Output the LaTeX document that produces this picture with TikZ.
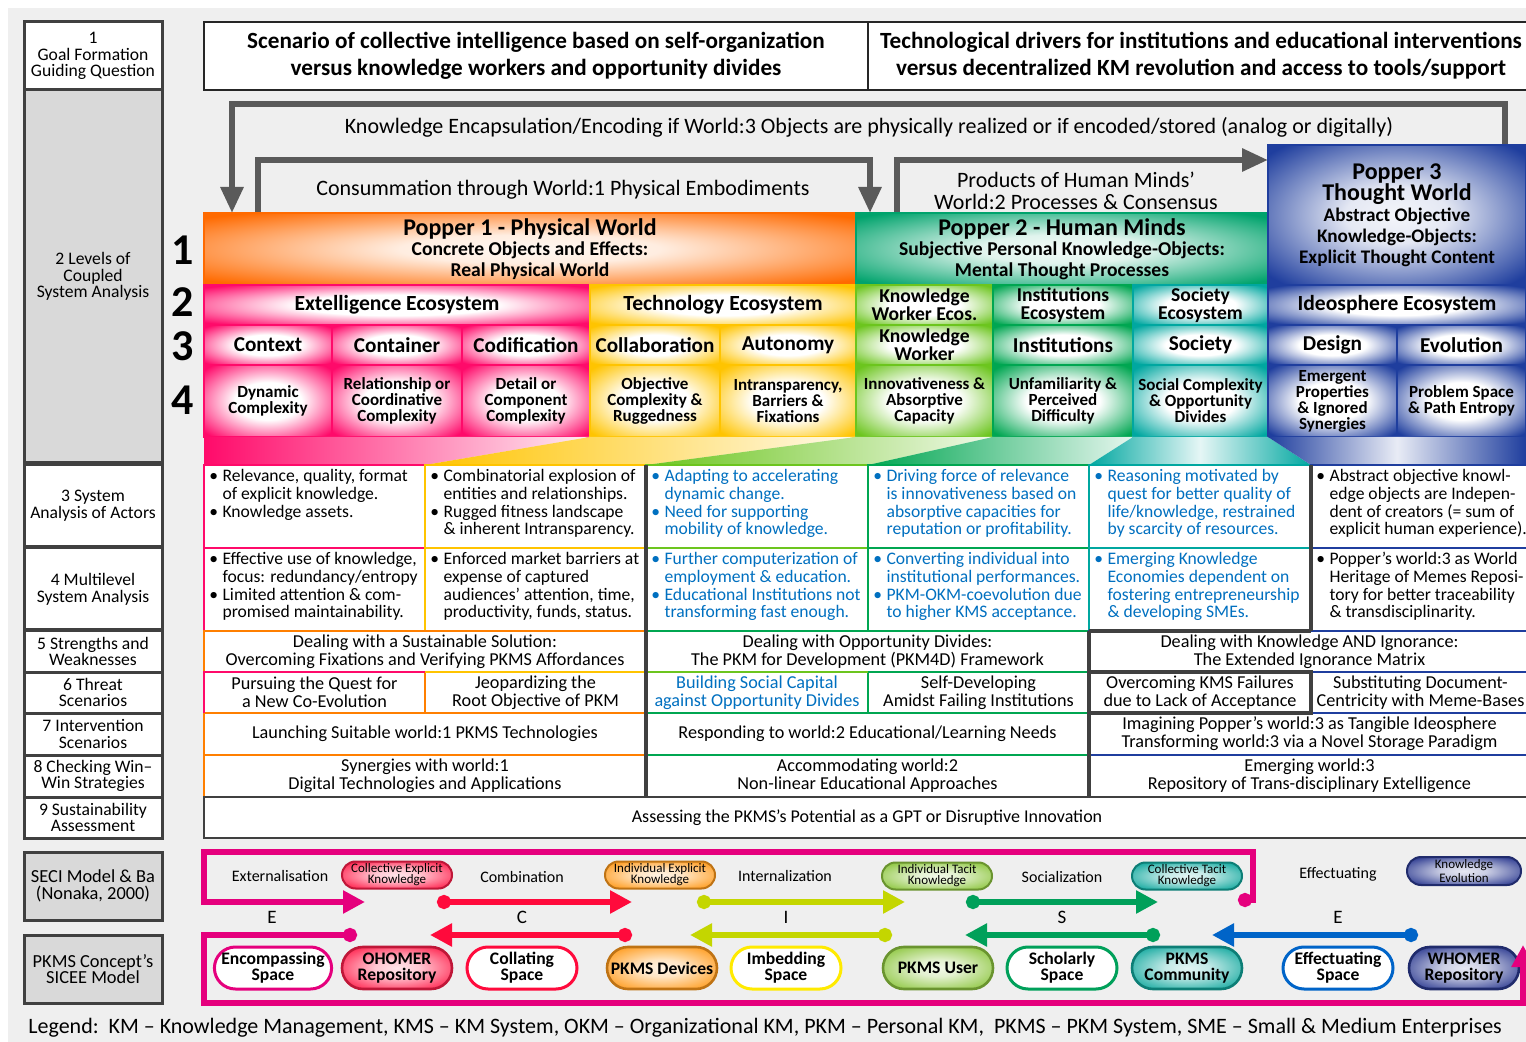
\documentclass[tikz,border=0pt]{standalone}
\usepackage{fontspec}
\setmainfont{Carlito}
\usetikzlibrary{arrows.meta,shapes.misc}
\definecolor{bgg}{HTML}{EFEFEF}
\definecolor{boxg}{HTML}{D9D9D9}
\definecolor{dkg}{HTML}{404040}
\definecolor{arg}{HTML}{5A5A5A}
\definecolor{orc}{HTML}{FF6A00}
\definecolor{pkc}{HTML}{FF0A6A}
\definecolor{ylc}{HTML}{FFC400}
\definecolor{ygc}{HTML}{6CC51E}
\definecolor{grc}{HTML}{00A651}
\definecolor{p2c}{HTML}{00A36C}
\definecolor{tlc}{HTML}{00A7A0}
\definecolor{blc}{HTML}{1F3E9E}
\definecolor{or2}{HTML}{FF7F00}
\definecolor{txb}{HTML}{0070C0}
\definecolor{mgc}{HTML}{E5007D}
\definecolor{rdc}{HTML}{FF0A3C}
\definecolor{lmc}{HTML}{C4D600}
\definecolor{sgc}{HTML}{00A05A}
\definecolor{ebc}{HTML}{0064C8}
\definecolor{ysc}{HTML}{FFEA00}
\definecolor{cekc}{HTML}{FF1F4B}
\definecolor{iekc}{HTML}{FF9A1A}
\definecolor{itkc}{HTML}{8DC63F}
\definecolor{ctkc}{HTML}{11A89E}
\definecolor{kec}{HTML}{2B3990}
\colorlet{glowc}{white}
\pgfdeclareradialshading[glowc]{glow}{\pgfpoint{0bp}{0bp}}{color(0bp)=(white); color(13bp)=(white); color(33bp)=(glowc); color(100bp)=(glowc)}
\pgfdeclareradialshading[glowc]{pglow}{\pgfpoint{0bp}{0bp}}{color(0bp)=(glowc!5); color(10bp)=(glowc!12); color(33bp)=(glowc); color(100bp)=(glowc)}
\pgfdeclareradialshading[glowc]{pillglow}{\pgfpoint{0bp}{0bp}}{color(0bp)=(glowc!12); color(10bp)=(glowc!25); color(32bp)=(glowc); color(100bp)=(glowc)}
\newcommand\fs[2]{\fontsize{#1}{#2}\selectfont}
\newcommand\bl{\makebox[0.75em][l]{•}}
\newcommand\ind{\hspace*{0.75em}}
\newcommand\cellbox[7]{%
  \pgfmathsetmacro\cbw{(#4-#2)*0.5}%
  \pgfmathsetmacro\cbh{(#5-#3)*0.5}%
  \pgfmathsetmacro\cbx{(#2+#4)/2}%
  \pgfmathsetmacro\cby{(#3+#5)/2}%
  \node[minimum width=\cbw pt, minimum height=\cbh pt, inner sep=0pt, align=center, #6] (#1) at (\cbx,\cby) {#7};%
}
\tikzset{
 lbox/.style={draw=dkg, line width=1.5pt, fill=white, font=\fs{8.8}{8.4}},
 lboxg/.style={lbox, fill=boxg},
 hbox/.style={draw=black!85, line width=0.8pt, fill=white, font=\bfseries\fs{11.6}{13.5}},
 sc/.style={draw=#1, line width=1pt, /utils/exec={\colorlet{glowc}{#1}}, shading=glow},
 pop/.style={draw=#1, line width=1pt, /utils/exec={\colorlet{glowc}{#1}}, shading=pglow, font=\bfseries\fs{9.8}{10.3}},
 r2/.style={font=\bfseries\fs{10.8}{8.7}},
 r2b/.style={font=\bfseries\fs{9.8}{8.9}},
 r3/.style={font=\bfseries\fs{10.6}{8.9}},
 r4/.style={font=\bfseries\fs{8.5}{8}},
 tcell/.style={draw=#1, line width=1.3pt, fill=white},
 ttext/.style={anchor=north west, align=left, inner sep=0pt, font=\fs{8.8}{8.85}},
 scell/.style={draw=#1, line width=1.3pt, fill=white, font=\fs{9.1}{9}},
 dkl/.style={draw=dkg, line width=2.2pt},
 garrow/.style={draw=arg, line width=3pt, arrows={-Triangle[length=13pt,width=11pt]}},
 alab/.style={font=\fs{11}{11}},
 sarr/.style={draw=#1, line width=3pt, arrows={Circle[length=7pt]-Triangle[length=11pt,width=11pt]}},
 slab/.style={font=\fs{8}{8}},
 sletter/.style={font=\fs{9.5}{9}},
 upill/.style={rounded rectangle, draw=#1!75!black, line width=1pt, /utils/exec={\colorlet{glowc}{#1}}, shading=pillglow, minimum width=55pt, minimum height=13.5pt, inner sep=0pt, align=center, font=\fs{6.5}{5.6}},
 lpillf/.style={rounded rectangle, draw=#1!75!black, line width=1.3pt, /utils/exec={\colorlet{glowc}{#1}}, shading=pillglow, minimum width=55pt, minimum height=21pt, inner sep=0pt, align=center, font=\bfseries\fs{8.8}{8}},
 lpillo/.style={rounded rectangle, draw=#1, line width=1.5pt, fill=white, minimum width=55pt, minimum height=21pt, inner sep=0pt, align=center, font=\bfseries\fs{8.8}{8}},
 bignum/.style={font=\bfseries\fs{22}{22}, inner sep=0pt},
}
\begin{document}
\begin{tikzpicture}[x=0.5pt,y=-0.5pt]
\useasboundingbox (0,0) rectangle (1526,1042);
\fill[white] (0,0) rectangle (1526,1042);
\fill[bgg] (8,8) rectangle (1526,1042);
% left column
\cellbox{L1}{24}{22}{162}{90}{lbox}{1\\Goal Formation\\Guiding Question}
\cellbox{L2}{24}{90}{162}{463}{lboxg}{2 Levels of\\Coupled\\System Analysis}
\cellbox{L3}{24}{465}{162}{547}{lbox}{3 System\\Analysis of Actors}
\cellbox{L4}{24}{548}{162}{630}{lbox}{4 Multilevel\\System Analysis}
\cellbox{L5}{24}{631}{162}{672}{lbox}{5 Strengths and\\Weaknesses}
\cellbox{L6}{24}{672}{162}{713}{lbox}{6 Threat\\Scenarios}
\cellbox{L7}{24}{713}{162}{755}{lbox}{7 Intervention\\Scenarios}
\cellbox{L8}{24}{755}{162}{797}{lbox}{8 Checking Win–\\Win Strategies}
\cellbox{L9}{24}{797}{162}{838}{lbox}{9 Sustainability\\Assessment}
\cellbox{LS}{24}{852}{162}{920}{lboxg, font=\fs{9.2}{8.4}}{SECI Model \& Ba\\(Nonaka, 2000)}
\cellbox{LP}{24}{935}{162}{1003}{lboxg, font=\fs{9.2}{8.4}}{PKMS Concept’s\\SICEE Model}
% header
\cellbox{H1}{204}{22}{868}{90}{hbox}{Scenario of collective intelligence based on self-organization\\versus knowledge workers and opportunity divides}
\cellbox{H2}{868}{22}{1534}{90}{hbox}{Technological drivers for institutions and educational interventions\\versus decentralized KM revolution and access to tools/support}
% grey arrows
\coordinate (ka) at (1505,145); \coordinate (kb) at (232,213);
\draw[garrow] (ka) -- (1505,104) -- (232,104) -- (kb);
\coordinate (ca) at (258,213); \coordinate (cb) at (870,213);
\draw[garrow] (ca) -- (258,160) -- (870,160) -- (cb);
\coordinate (pa) at (897,213); \coordinate (pb) at (1268,160);
\draw[garrow] (pa) -- (897,160) -- (pb);
\node[alab] (klab) at (869,127) {Knowledge Encapsulation/Encoding if World:3 Objects are physically realized or if encoded/stored (analog or digitally)};
\node[alab] (clab) at (563,190) {Consummation through World:1 Physical Embodiments};
\node[alab, align=center] (plab) at (1076,191) {Products of Human Minds’\\World:2 Processes \& Consensus};
% Popper boxes
\cellbox{P1}{204}{213}{856}{285}{pop=orc}{{\fs{12}{10.3}Popper 1 - Physical World}\\Concrete Objects and Effects:\\Real Physical World}
\cellbox{P2}{856}{213}{1268}{285}{pop=p2c}{{\fs{12}{10.3}Popper 2 - Human Minds}\\Subjective Personal Knowledge-Objects:\\Mental Thought Processes}
\cellbox{P3}{1268}{145}{1526}{285}{pop=blc, font=\bfseries\fs{9.6}{10.5}}{{\fs{12}{10.5}Popper 3}\\{\fs{12}{10.5}Thought World}\\Abstract Objective\\Knowledge-Objects:\\Explicit Thought Content}
% row numbers
\node[bignum] (n1) at (183,250) {1};
\node[bignum] (n2) at (183,302) {2};
\node[bignum] (n3) at (183,346) {3};
\node[bignum] (n4) at (183,400) {4};
% row 2
\cellbox{E2a}{204}{285}{590}{325}{sc=pkc, r2}{Extelligence Ecosystem}
\cellbox{E2b}{590}{285}{856}{325}{sc=ylc, r2}{Technology Ecosystem}
\cellbox{E2c}{856}{285}{993}{325}{sc=ygc, r2b}{Knowledge\\Worker Ecos.}
\cellbox{E2d}{993}{285}{1133}{325}{sc=grc, r2b}{Institutions\\Ecosystem}
\cellbox{E2e}{1133}{285}{1268}{325}{sc=tlc, r2b}{Society\\Ecosystem}
\cellbox{E2f}{1268}{285}{1526}{325}{sc=blc, r2}{Ideosphere Ecosystem}
% row 3
\cellbox{C3a}{204}{325}{332}{365}{sc=pkc, r3}{Context}
\cellbox{C3b}{332}{325}{462}{365}{sc=pkc, r3}{Container}
\cellbox{C3c}{462}{325}{590}{365}{sc=pkc, r3}{Codification}
\cellbox{C3d}{590}{325}{720}{365}{sc=ylc, r3}{Collaboration}
\cellbox{C3e}{720}{325}{856}{365}{sc=ylc, r3}{Autonomy}
\cellbox{C3f}{856}{325}{993}{365}{sc=ygc, r2b}{Knowledge\\Worker}
\cellbox{C3g}{993}{325}{1133}{365}{sc=grc, r3}{Institutions}
\cellbox{C3h}{1133}{325}{1268}{365}{sc=tlc, r3}{Society}
\cellbox{C3i}{1268}{325}{1397}{365}{sc=blc, r3}{Design}
\cellbox{C3j}{1397}{325}{1526}{365}{sc=blc, r3}{Evolution}
% row 4
\cellbox{C4a}{204}{365}{332}{437}{sc=pkc, r4}{Dynamic\\Complexity}
\cellbox{C4b}{332}{365}{462}{437}{sc=pkc, r4}{Relationship or\\Coordinative\\Complexity}
\cellbox{C4c}{462}{365}{590}{437}{sc=pkc, r4}{Detail or\\Component\\Complexity}
\cellbox{C4d}{590}{365}{720}{437}{sc=ylc, r4}{Objective\\Complexity \&\\Ruggedness}
\cellbox{C4e}{720}{365}{856}{437}{sc=ylc, r4}{Intransparency,\\Barriers \&\\Fixations}
\cellbox{C4f}{856}{365}{993}{437}{sc=ygc, r4}{Innovativeness \&\\Absorptive\\Capacity}
\cellbox{C4g}{993}{365}{1133}{437}{sc=grc, r4}{Unfamiliarity \&\\Perceived\\Difficulty}
\cellbox{C4h}{1133}{365}{1268}{437}{sc=tlc, r4}{Social Complexity\\\& Opportunity\\Divides}
\cellbox{C4i}{1268}{365}{1397}{437}{sc=blc, r4}{Emergent\\Properties\\\& Ignored\\Synergies}
\cellbox{C4j}{1397}{365}{1526}{437}{sc=blc, r4}{Problem Space\\\& Path Entropy}
% transition band
\shade[left color=pkc, right color=pkc!8] (204,437) -- (590,437) -- (425,465) -- (204,465) -- cycle;
\shade[left color=ylc, right color=ylc!8] (590,437) -- (856,437) -- (646,465) -- (425,465) -- cycle;
\shade[left color=ygc, right color=ygc!10] (856,437) -- (993,437) -- (868,465) -- (646,465) -- cycle;
\shade[left color=grc, right color=grc!10] (993,437) -- (1133,437) -- (1089,465) -- (868,465) -- cycle;
\shade[left color=tlc, right color=tlc, middle color=tlc!10] (1133,437) -- (1268,437) -- (1311,465) -- (1089,465) -- cycle;
\shade[left color=blc, right color=blc, middle color=blc!10] (1268,437) -- (1526,437) -- (1526,465) -- (1311,465) -- cycle;
% text rows 3 and 4
\cellbox{S3a}{204}{465}{425}{548}{tcell=pkc}{}
\cellbox{S3b}{425}{465}{646}{548}{tcell=ylc}{}
\cellbox{S3c}{646}{465}{868}{548}{tcell=ygc}{}
\cellbox{S3d}{868}{465}{1089}{548}{tcell=grc}{}
\cellbox{S3e}{1089}{465}{1311}{548}{tcell=tlc}{}
\cellbox{S3f}{1311}{465}{1530}{548}{tcell=blc}{}
\cellbox{S4a}{204}{548}{425}{631}{tcell=pkc}{}
\cellbox{S4b}{425}{548}{646}{631}{tcell=ylc}{}
\cellbox{S4c}{646}{548}{868}{631}{tcell=ygc}{}
\cellbox{S4d}{868}{548}{1089}{631}{tcell=grc}{}
\cellbox{S4e}{1089}{548}{1311}{631}{tcell=tlc}{}
\cellbox{S4f}{1311}{548}{1530}{631}{tcell=blc}{}
\node[ttext] (T3a) at (209,469) {\bl Relevance, quality, format\\\ind of explicit knowledge.\\\bl Knowledge assets.};
\node[ttext] (T3b) at (430,469) {\bl Combinatorial explosion of\\\ind entities and relationships.\\\bl Rugged fitness landscape\\\ind \& inherent Intransparency.};
\node[ttext, text=txb] (T3c) at (651,469) {\bl Adapting to accelerating\\\ind dynamic change.\\\bl Need for supporting\\\ind mobility of knowledge.};
\node[ttext, text=txb] (T3d) at (873,469) {\bl Driving force of relevance\\\ind is innovativeness based on\\\ind absorptive capacities for\\\ind reputation or profitability.};
\node[ttext, text=txb] (T3e) at (1094,469) {\bl Reasoning motivated by\\\ind quest for better quality of\\\ind life/knowledge, restrained\\\ind by scarcity of resources.};
\node[ttext] (T3f) at (1316,469) {\bl Abstract objective knowl-\\\ind edge objects are Indepen-\\\ind dent of creators (= sum of\\\ind explicit human experience).};
\node[ttext] (T4a) at (209,552) {\bl Effective use of knowledge,\\\ind focus: redundancy/entropy\\\bl Limited attention \& com-\\\ind promised maintainability.};
\node[ttext] (T4b) at (430,552) {\bl Enforced market barriers at\\\ind expense of captured\\\ind audiences’ attention, time,\\\ind productivity, funds, status.};
\node[ttext, text=txb] (T4c) at (651,552) {\bl Further computerization of\\\ind employment \& education.\\\bl Educational Institutions not\\\ind transforming fast enough.};
\node[ttext, text=txb] (T4d) at (873,552) {\bl Converting individual into\\\ind institutional performances.\\\bl PKM-OKM-coevolution due\\\ind to higher KMS acceptance.};
\node[ttext, text=txb] (T4e) at (1094,552) {\bl Emerging Knowledge\\\ind Economies dependent on\\\ind fostering entrepreneurship\\\ind \& developing SMEs.};
\node[ttext] (T4f) at (1316,552) {\bl Popper’s world:3 as World\\\ind Heritage of Memes Reposi-\\\ind tory for better traceability\\\ind \& transdisciplinarity.};
% rows 5-8
\cellbox{R5a}{204}{631}{646}{672}{scell=or2}{Dealing with a Sustainable Solution:\\Overcoming Fixations and Verifying PKMS Affordances}
\cellbox{R5b}{646}{631}{1089}{672}{scell=grc}{Dealing with Opportunity Divides:\\The PKM for Development (PKM4D) Framework}
\cellbox{R5c}{1089}{631}{1530}{672}{scell=blc}{Dealing with Knowledge AND Ignorance:\\The Extended Ignorance Matrix}
\cellbox{R6a}{204}{672}{425}{713}{scell=or2}{Pursuing the Quest for\\a New Co-Evolution}
\cellbox{R6b}{425}{672}{646}{713}{scell=or2}{Jeopardizing the\\Root Objective of PKM}
\cellbox{R6c}{646}{672}{868}{713}{scell=grc, text=txb}{Building Social Capital\\against Opportunity Divides}
\cellbox{R6d}{868}{672}{1089}{713}{scell=grc}{Self-Developing\\Amidst Failing Institutions}
\cellbox{R6e}{1089}{672}{1311}{713}{scell=dkg}{Overcoming KMS Failures\\due to Lack of Acceptance}
\cellbox{R6f}{1311}{672}{1530}{713}{scell=blc}{Substituting Document-\\Centricity with Meme-Bases}
\cellbox{R7a}{204}{713}{646}{755}{scell=or2}{Launching Suitable world:1 PKMS Technologies}
\cellbox{R7b}{646}{713}{1089}{755}{scell=grc}{Responding to world:2 Educational/Learning Needs}
\cellbox{R7c}{1089}{713}{1530}{755}{scell=blc}{Imagining Popper’s world:3 as Tangible Ideosphere\\Transforming world:3 via a Novel Storage Paradigm}
\cellbox{R8a}{204}{755}{646}{797}{scell=or2}{Synergies with world:1\\Digital Technologies and Applications}
\cellbox{R8b}{646}{755}{1089}{797}{scell=grc}{Accommodating world:2\\Non-linear Educational Approaches}
\cellbox{R8c}{1089}{755}{1530}{797}{scell=blc}{Emerging world:3\\Repository of Trans-disciplinary Extelligence}
\cellbox{R9}{204}{797}{1530}{838}{draw=dkg, line width=1pt, fill=white, font=\fs{9}{9}}{Assessing the PKMS’s Potential as a GPT or Disruptive Innovation}
% coloured accents
\draw[pkc, line width=1.3pt] (204,713) -- (204,672) -- (425,672);
\draw[ylc, line width=1.3pt] (425,672) -- (646,672);
\draw[ygc, line width=1.3pt] (646,672) -- (868,672);
% dark lines
\draw[dkl] (646,465) -- (646,797);
\draw[dkl] (1311,465) -- (1311,631);
\draw[dkl] (1089,631) -- (1089,797);
\draw[dkl] (1089,631) -- (1311,631);
\draw[dkl] (1089,672) -- (1311,672) -- (1311,713) -- (1089,713);
% SECI labels
\node[slab] (xt) at (280,876) {Externalisation};
\node[slab] (cm) at (522,877) {Combination};
\node[slab] (it) at (785,876) {Internalization};
\node[slab] (so) at (1062,877) {Socialization};
\node[slab] (ef) at (1338,874) {Effectuating};
\node[sletter] (e1) at (272,917) {E};
\node[sletter] (c1) at (522,917) {C};
\node[sletter] (i1) at (786,917) {I};
\node[sletter] (s1) at (1062,917) {S};
\node[sletter] (e2) at (1338,917) {E};
% upper pills
\node[upill=cekc] (CEK) at (397,875) {Collective Explicit\\Knowledge};
\node[upill=iekc] (IEK) at (660,875) {Individual Explicit\\Knowledge};
\node[upill=itkc] (ITK) at (937,876) {Individual Tacit\\Knowledge};
\node[upill=ctkc] (CTK) at (1187,876) {Collective Tacit\\Knowledge};
\node[upill=kec, minimum width=57pt, minimum height=14pt] (KEV) at (1464,871) {Knowledge\\Evolution};
% lower pills
\node[lpillo=mgc] (ES) at (273,968) {Encompassing\\Space};
\node[lpillf=cekc] (OR) at (397,968) {OHOMER\\Repository};
\node[lpillo=rdc] (CS) at (522,968) {Collating\\Space};
\node[lpillf=iekc] (PD) at (662,968) {PKMS Devices};
\node[lpillo=ysc] (IS) at (786,968) {Imbedding\\Space};
\node[lpillf=itkc] (PU) at (938,968) {PKMS User};
\node[lpillo=sgc] (SS) at (1062,968) {Scholarly\\Space};
\node[lpillf=ctkc] (PC) at (1187,968) {PKMS\\Community};
\node[lpillo=ebc] (EFS) at (1338,968) {Effectuating\\Space};
\node[lpillf=kec] (WR) at (1464,968) {WHOMER\\Repository};
% SECI arrows
\coordinate (u0s) at (1238,900); \coordinate (u0e) at (365,902);
\draw[sarr=mgc] (u0s) -- (1253,900) -- (1253,852) -- (204,852) -- (204,902) -- (u0e);
\coordinate (u1s) at (437,902); \coordinate (u1e) at (632,902);
\draw[sarr=rdc] (u1s) -- (u1e);
\coordinate (u2s) at (697,902); \coordinate (u2e) at (905,902);
\draw[sarr=lmc] (u2s) -- (u2e);
\coordinate (u3s) at (966,902); \coordinate (u3e) at (1158,902);
\draw[sarr=sgc] (u3s) -- (u3e);
\coordinate (d0s) at (357,935); \coordinate (d0e) at (1523,945);
\draw[sarr=mgc] (d0s) -- (204,935) -- (204,1003) -- (1523,1003) -- (d0e);
\coordinate (d1s) at (632,935); \coordinate (d1e) at (430,935);
\draw[sarr=rdc] (d1s) -- (d1e);
\coordinate (d2s) at (892,935); \coordinate (d2e) at (690,935);
\draw[sarr=lmc] (d2s) -- (d2e);
\coordinate (d3s) at (1160,935); \coordinate (d3e) at (965,935);
\draw[sarr=sgc] (d3s) -- (d3e);
\coordinate (d4s) at (1418,935); \coordinate (d4e) at (1212,935);
\draw[sarr=ebc] (d4s) -- (d4e);
% legend
\node[anchor=west, inner sep=0pt, font=\fs{11}{12}] (LEG) at (28,1028) {Legend:\ \ KM – Knowledge Management, KMS – KM System, OKM – Organizational KM, PKM – Personal KM,\ \ PKMS – PKM System, SME – Small \& Medium Enterprises};
\end{tikzpicture}
\end{document}
